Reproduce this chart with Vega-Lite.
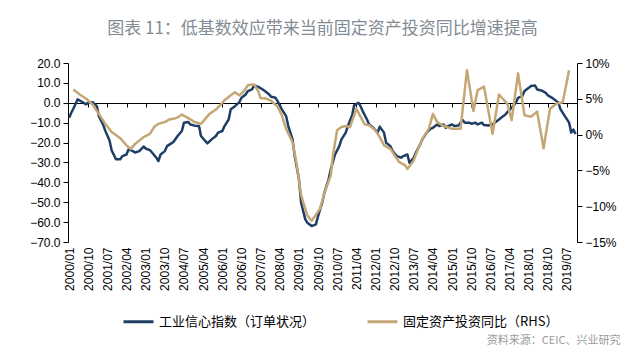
{
  "$schema": "https://vega.github.io/schema/vega-lite/v6.json",
  "width": 509,
  "height": 179,
  "autosize": {"type": "none"},
  "padding": {"left": 68, "top": 63, "right": 63, "bottom": 116},
  "background": "white",
  "title": {
    "text": "图表 11：低基数效应带来当前固定资产投资同比增速提高",
    "anchor": "middle",
    "frame": "group",
    "font": "Noto Sans CJK SC",
    "fontSize": 17,
    "fontWeight": "normal",
    "color": "#838b94",
    "offset": 19
  },
  "config": {
    "view": {"stroke": null},
    "axis": {
      "labelFont": "Liberation Sans",
      "labelFontSize": 12,
      "labelColor": "#000000",
      "domainColor": "#000000",
      "tickColor": "#000000",
      "grid": false
    }
  },
  "datasets": {
    "blue": [
      {"d": "2000-01-01", "v": -7.5}, {"d": "2000-02-01", "v": -5}, {"d": "2000-03-01", "v": -3},
      {"d": "2000-05-01", "v": 1.7}, {"d": "2000-07-01", "v": 0.5}, {"d": "2000-09-01", "v": -0.8},
      {"d": "2000-10-01", "v": 0}, {"d": "2000-12-01", "v": 0.3}, {"d": "2001-02-01", "v": -1.7},
      {"d": "2001-03-01", "v": -6.7}, {"d": "2001-05-01", "v": -11}, {"d": "2001-06-01", "v": -14},
      {"d": "2001-08-01", "v": -19}, {"d": "2001-09-01", "v": -24}, {"d": "2001-11-01", "v": -28.4},
      {"d": "2002-01-01", "v": -28.4}, {"d": "2002-02-01", "v": -26.8}, {"d": "2002-04-01", "v": -26},
      {"d": "2002-05-01", "v": -23.4}, {"d": "2002-07-01", "v": -24.3}, {"d": "2002-08-01", "v": -25},
      {"d": "2002-10-01", "v": -24.3}, {"d": "2002-12-01", "v": -22}, {"d": "2003-01-01", "v": -23},
      {"d": "2003-03-01", "v": -23.8}, {"d": "2003-04-01", "v": -25}, {"d": "2003-06-01", "v": -27.6},
      {"d": "2003-07-01", "v": -29.3}, {"d": "2003-08-01", "v": -26}, {"d": "2003-10-01", "v": -24.3},
      {"d": "2003-11-01", "v": -21.8}, {"d": "2004-01-01", "v": -20.4}, {"d": "2004-02-01", "v": -19.7},
      {"d": "2004-04-01", "v": -16.7}, {"d": "2004-06-01", "v": -14.2}, {"d": "2004-07-01", "v": -10},
      {"d": "2004-09-01", "v": -9.7}, {"d": "2004-10-01", "v": -10.9}, {"d": "2004-12-01", "v": -11.5},
      {"d": "2005-02-01", "v": -11.7}, {"d": "2005-03-01", "v": -16.7}, {"d": "2005-05-01", "v": -19.2},
      {"d": "2005-06-01", "v": -20.4}, {"d": "2005-08-01", "v": -18.4}, {"d": "2005-10-01", "v": -16.7},
      {"d": "2005-11-01", "v": -15}, {"d": "2006-01-01", "v": -14.2}, {"d": "2006-02-01", "v": -11.7},
      {"d": "2006-04-01", "v": -8.4}, {"d": "2006-05-01", "v": -3.3}, {"d": "2006-07-01", "v": -1.7},
      {"d": "2006-09-01", "v": 0.3}, {"d": "2006-10-01", "v": 2.5}, {"d": "2006-12-01", "v": 4.2},
      {"d": "2007-01-01", "v": 5.9}, {"d": "2007-03-01", "v": 6.7}, {"d": "2007-04-01", "v": 8.7},
      {"d": "2007-06-01", "v": 8.0}, {"d": "2007-08-01", "v": 6.7}, {"d": "2007-09-01", "v": 5.9},
      {"d": "2007-11-01", "v": 4.2}, {"d": "2007-12-01", "v": 3.0}, {"d": "2008-02-01", "v": 2.5},
      {"d": "2008-03-01", "v": 0.8}, {"d": "2008-05-01", "v": -3.3}, {"d": "2008-07-01", "v": -6.7},
      {"d": "2008-08-01", "v": -11.7}, {"d": "2008-10-01", "v": -18.4}, {"d": "2008-11-01", "v": -26.8},
      {"d": "2009-01-01", "v": -38.5}, {"d": "2009-02-01", "v": -50.3}, {"d": "2009-04-01", "v": -58.6},
      {"d": "2009-05-01", "v": -60.3}, {"d": "2009-07-01", "v": -62}, {"d": "2009-09-01", "v": -61.1},
      {"d": "2009-10-01", "v": -57}, {"d": "2009-12-01", "v": -50}, {"d": "2010-01-01", "v": -45},
      {"d": "2010-03-01", "v": -38.5}, {"d": "2010-04-01", "v": -33.5}, {"d": "2010-06-01", "v": -26},
      {"d": "2010-08-01", "v": -21.8}, {"d": "2010-09-01", "v": -18.4}, {"d": "2010-11-01", "v": -15},
      {"d": "2010-12-01", "v": -11.7}, {"d": "2011-02-01", "v": -6.3}, {"d": "2011-03-01", "v": -1.3},
      {"d": "2011-05-01", "v": 0}, {"d": "2011-06-01", "v": -1.7}, {"d": "2011-07-01", "v": -4.2},
      {"d": "2011-09-01", "v": -8.4}, {"d": "2011-10-01", "v": -10.9}, {"d": "2011-12-01", "v": -12.6},
      {"d": "2012-02-01", "v": -15}, {"d": "2012-03-01", "v": -12}, {"d": "2012-05-01", "v": -15},
      {"d": "2012-06-01", "v": -20.1}, {"d": "2012-08-01", "v": -21.8}, {"d": "2012-09-01", "v": -24.3},
      {"d": "2012-11-01", "v": -26.8}, {"d": "2013-01-01", "v": -27.6}, {"d": "2013-02-01", "v": -26.8},
      {"d": "2013-04-01", "v": -26}, {"d": "2013-05-01", "v": -30.2}, {"d": "2013-07-01", "v": -27.6},
      {"d": "2013-08-01", "v": -25}, {"d": "2013-10-01", "v": -20.9}, {"d": "2013-11-01", "v": -18.4},
      {"d": "2014-01-01", "v": -15}, {"d": "2014-03-01", "v": -13}, {"d": "2014-04-01", "v": -12.6},
      {"d": "2014-06-01", "v": -10.9}, {"d": "2014-07-01", "v": -11.7}, {"d": "2014-09-01", "v": -10.9},
      {"d": "2014-10-01", "v": -12.6}, {"d": "2014-11-01", "v": -11.7}, {"d": "2015-01-01", "v": -10.9},
      {"d": "2015-02-01", "v": -11.7}, {"d": "2015-04-01", "v": -11.4}, {"d": "2015-06-01", "v": -8.7},
      {"d": "2015-07-01", "v": -10}, {"d": "2015-09-01", "v": -10}, {"d": "2015-10-01", "v": -10.5},
      {"d": "2015-12-01", "v": -10}, {"d": "2016-01-01", "v": -10.9}, {"d": "2016-03-01", "v": -10},
      {"d": "2016-04-01", "v": -11.2}, {"d": "2016-06-01", "v": -11.4}, {"d": "2016-08-01", "v": -10.9},
      {"d": "2016-09-01", "v": -10}, {"d": "2016-11-01", "v": -8.4}, {"d": "2016-12-01", "v": -7.5},
      {"d": "2017-02-01", "v": -5.9}, {"d": "2017-03-01", "v": -4.7}, {"d": "2017-05-01", "v": -2.5},
      {"d": "2017-07-01", "v": 0}, {"d": "2017-08-01", "v": 2.5}, {"d": "2017-10-01", "v": 3.4},
      {"d": "2017-11-01", "v": 5.9}, {"d": "2018-01-01", "v": 7.5}, {"d": "2018-02-01", "v": 8.4},
      {"d": "2018-04-01", "v": 8.7}, {"d": "2018-05-01", "v": 6.7}, {"d": "2018-07-01", "v": 6.2},
      {"d": "2018-09-01", "v": 5.0}, {"d": "2018-10-01", "v": 3.7}, {"d": "2018-12-01", "v": 2.5},
      {"d": "2019-01-01", "v": 1.7}, {"d": "2019-03-01", "v": 0}, {"d": "2019-04-01", "v": -3.3},
      {"d": "2019-06-01", "v": -6.7}, {"d": "2019-08-01", "v": -10}, {"d": "2019-09-01", "v": -15},
      {"d": "2019-10-01", "v": -13.5}, {"d": "2019-11-01", "v": -15.7}
    ],
    "gold": [
      {"d": "2000-03-01", "v": 6.3}, {"d": "2000-06-01", "v": 5.6}, {"d": "2000-09-01", "v": 5.0},
      {"d": "2000-12-01", "v": 4.2}, {"d": "2001-03-01", "v": 2.9}, {"d": "2001-06-01", "v": 1.5},
      {"d": "2001-09-01", "v": 0.35}, {"d": "2002-01-01", "v": -0.5}, {"d": "2002-04-01", "v": -1.5},
      {"d": "2002-06-01", "v": -2.0}, {"d": "2002-08-01", "v": -1.3}, {"d": "2002-12-01", "v": -0.35},
      {"d": "2003-03-01", "v": 0.1}, {"d": "2003-05-01", "v": 1.05}, {"d": "2003-07-01", "v": 1.5},
      {"d": "2003-10-01", "v": 1.75}, {"d": "2003-12-01", "v": 2.1}, {"d": "2004-02-01", "v": 2.2},
      {"d": "2004-04-01", "v": 2.4}, {"d": "2004-06-01", "v": 2.8}, {"d": "2004-09-01", "v": 2.3},
      {"d": "2004-12-01", "v": 1.75}, {"d": "2005-03-01", "v": 1.5}, {"d": "2005-05-01", "v": 2.2},
      {"d": "2005-07-01", "v": 2.9}, {"d": "2005-10-01", "v": 3.5}, {"d": "2005-12-01", "v": 4.1},
      {"d": "2006-02-01", "v": 4.8}, {"d": "2006-05-01", "v": 5.5}, {"d": "2006-07-01", "v": 5.9},
      {"d": "2006-09-01", "v": 5.5}, {"d": "2006-11-01", "v": 6.0}, {"d": "2007-01-01", "v": 6.9},
      {"d": "2007-03-01", "v": 7.0}, {"d": "2007-04-01", "v": 7.0}, {"d": "2007-06-01", "v": 6.0},
      {"d": "2007-07-01", "v": 5.1}, {"d": "2007-10-01", "v": 5.0}, {"d": "2007-12-01", "v": 4.7},
      {"d": "2008-03-01", "v": 3.9}, {"d": "2008-05-01", "v": 2.7}, {"d": "2008-07-01", "v": 0.8},
      {"d": "2008-10-01", "v": -1.05}, {"d": "2008-12-01", "v": -4.3}, {"d": "2009-02-01", "v": -8.5},
      {"d": "2009-05-01", "v": -11.3}, {"d": "2009-07-01", "v": -12.05}, {"d": "2009-09-01", "v": -11.2},
      {"d": "2009-11-01", "v": -10.3}, {"d": "2010-01-01", "v": -8.1}, {"d": "2010-04-01", "v": -5.7},
      {"d": "2010-05-01", "v": -2.9}, {"d": "2010-07-01", "v": 0.6}, {"d": "2010-09-01", "v": 1.05},
      {"d": "2010-11-01", "v": 1.2}, {"d": "2011-01-01", "v": 1.05}, {"d": "2011-04-01", "v": 3.6},
      {"d": "2011-06-01", "v": 2.5}, {"d": "2011-08-01", "v": 1.4}, {"d": "2011-10-01", "v": 1.3},
      {"d": "2012-01-01", "v": 0.6}, {"d": "2012-03-01", "v": -0.35}, {"d": "2012-05-01", "v": -1.5},
      {"d": "2012-08-01", "v": -2.0}, {"d": "2012-10-01", "v": -2.9}, {"d": "2012-12-01", "v": -3.8},
      {"d": "2013-03-01", "v": -4.3}, {"d": "2013-04-01", "v": -4.8}, {"d": "2013-07-01", "v": -3.6},
      {"d": "2013-09-01", "v": -2.0}, {"d": "2013-11-01", "v": -0.6}, {"d": "2014-02-01", "v": 0.8},
      {"d": "2014-04-01", "v": 2.9}, {"d": "2014-06-01", "v": 1.75}, {"d": "2014-09-01", "v": 1.2},
      {"d": "2015-01-01", "v": 0.8}, {"d": "2015-05-01", "v": 0.8}, {"d": "2015-08-01", "v": 9.0},
      {"d": "2015-11-01", "v": 3.3}, {"d": "2016-01-01", "v": 6.2}, {"d": "2016-04-01", "v": 6.7},
      {"d": "2016-08-01", "v": 0.1}, {"d": "2016-11-01", "v": 5.6}, {"d": "2017-03-01", "v": 4.3},
      {"d": "2017-05-01", "v": 2.0}, {"d": "2017-08-01", "v": 8.55}, {"d": "2017-11-01", "v": 2.7},
      {"d": "2018-02-01", "v": 2.5}, {"d": "2018-05-01", "v": 3.2}, {"d": "2018-08-01", "v": -1.9},
      {"d": "2018-11-01", "v": 3.6}, {"d": "2019-02-01", "v": 4.3}, {"d": "2019-05-01", "v": 4.5},
      {"d": "2019-08-01", "v": 9.0}
    ]
  },
  "layer": [
    {
      "data": {"name": "blue"},
      "mark": {"type": "line", "strokeWidth": 2.5, "strokeJoin": "round"},
      "encoding": {
        "x": {
          "field": "d", "type": "temporal",
          "scale": {"type": "utc", "domain": [{"year": 1999, "month": 12, "date": 16, "utc": true}, {"year": 2019, "month": 11, "date": 22, "utc": true}]},
          "axis": {
            "orient": "bottom",
            "values": [
              {"year": 2000, "month": 1, "date": 1, "utc": true}, {"year": 2000, "month": 10, "date": 1, "utc": true},
              {"year": 2001, "month": 7, "date": 1, "utc": true}, {"year": 2002, "month": 4, "date": 1, "utc": true},
              {"year": 2003, "month": 1, "date": 1, "utc": true}, {"year": 2003, "month": 10, "date": 1, "utc": true},
              {"year": 2004, "month": 7, "date": 1, "utc": true}, {"year": 2005, "month": 4, "date": 1, "utc": true},
              {"year": 2006, "month": 1, "date": 1, "utc": true}, {"year": 2006, "month": 10, "date": 1, "utc": true},
              {"year": 2007, "month": 7, "date": 1, "utc": true}, {"year": 2008, "month": 4, "date": 1, "utc": true},
              {"year": 2009, "month": 1, "date": 1, "utc": true}, {"year": 2009, "month": 10, "date": 1, "utc": true},
              {"year": 2010, "month": 7, "date": 1, "utc": true}, {"year": 2011, "month": 4, "date": 1, "utc": true},
              {"year": 2012, "month": 1, "date": 1, "utc": true}, {"year": 2012, "month": 10, "date": 1, "utc": true},
              {"year": 2013, "month": 7, "date": 1, "utc": true}, {"year": 2014, "month": 4, "date": 1, "utc": true},
              {"year": 2015, "month": 1, "date": 1, "utc": true}, {"year": 2015, "month": 10, "date": 1, "utc": true},
              {"year": 2016, "month": 7, "date": 1, "utc": true}, {"year": 2017, "month": 4, "date": 1, "utc": true},
              {"year": 2018, "month": 1, "date": 1, "utc": true}, {"year": 2018, "month": 10, "date": 1, "utc": true},
              {"year": 2019, "month": 7, "date": 1, "utc": true}
            ],
            "format": "%Y/%m",
            "labelAngle": -90,
            "labelAlign": "right",
            "labelBaseline": "middle",
            "labelPadding": 5,
            "labelOverlap": false,
            "labelFlush": false,
            "domain": false,
            "ticks": false,
            "title": "资料来源：CEIC、兴业研究",
            "titleFont": "Noto Sans CJK SC",
            "titleFontSize": 11,
            "titleFontWeight": "normal",
            "titleColor": "#9a9a9a",
            "titleAnchor": "end",
            "titleAlign": "right",
            "titleBaseline": "middle",
            "titleX": 552,
            "titleY": 98
          }
        },
        "y": {
          "field": "v", "type": "quantitative",
          "scale": {"domain": [-70, 20], "nice": false, "zero": false},
          "axis": {
            "orient": "left",
            "values": [-70, -60, -50, -40, -30, -20, -10, 0, 10, 20],
            "format": ".1f",
            "tickSize": 5,
            "labelPadding": 3,
            "title": null
          }
        },
        "color": {
          "datum": "工业信心指数（订单状况）",
          "type": "nominal",
          "scale": {"domain": ["工业信心指数（订单状况）", "固定资产投资同比（RHS）"], "range": ["#1f3e66", "#c4a775"]},
          "legend": {
            "orient": "none",
            "legendX": 54,
            "legendY": 242,
            "direction": "horizontal",
            "title": null,
            "symbolType": "stroke",
            "symbolSize": 900,
            "symbolStrokeWidth": 3,
            "labelFont": "Noto Sans CJK SC",
            "labelFontSize": 13,
            "labelColor": "#000000",
            "labelLimit": 300,
            "columnPadding": 45
          }
        }
      }
    },
    {
      "data": {"name": "gold"},
      "mark": {"type": "line", "strokeWidth": 2.5, "strokeJoin": "round"},
      "encoding": {
        "x": {
          "field": "d", "type": "temporal",
          "scale": {"type": "utc", "domain": [{"year": 1999, "month": 12, "date": 16, "utc": true}, {"year": 2019, "month": 11, "date": 22, "utc": true}]},
          "axis": {
            "orient": "bottom",
            "offset": -139,
            "values": [
              {"year": 2000, "month": 10, "date": 1, "utc": true},
              {"year": 2001, "month": 7, "date": 1, "utc": true}, {"year": 2002, "month": 4, "date": 1, "utc": true},
              {"year": 2003, "month": 1, "date": 1, "utc": true}, {"year": 2003, "month": 10, "date": 1, "utc": true},
              {"year": 2004, "month": 7, "date": 1, "utc": true}, {"year": 2005, "month": 4, "date": 1, "utc": true},
              {"year": 2006, "month": 1, "date": 1, "utc": true}, {"year": 2006, "month": 10, "date": 1, "utc": true},
              {"year": 2007, "month": 7, "date": 1, "utc": true}, {"year": 2008, "month": 4, "date": 1, "utc": true},
              {"year": 2009, "month": 1, "date": 1, "utc": true}, {"year": 2009, "month": 10, "date": 1, "utc": true},
              {"year": 2010, "month": 7, "date": 1, "utc": true}, {"year": 2011, "month": 4, "date": 1, "utc": true},
              {"year": 2012, "month": 1, "date": 1, "utc": true}, {"year": 2012, "month": 10, "date": 1, "utc": true},
              {"year": 2013, "month": 7, "date": 1, "utc": true}, {"year": 2014, "month": 4, "date": 1, "utc": true},
              {"year": 2015, "month": 1, "date": 1, "utc": true}, {"year": 2015, "month": 10, "date": 1, "utc": true},
              {"year": 2016, "month": 7, "date": 1, "utc": true}, {"year": 2017, "month": 4, "date": 1, "utc": true},
              {"year": 2018, "month": 1, "date": 1, "utc": true}, {"year": 2018, "month": 10, "date": 1, "utc": true},
              {"year": 2019, "month": 7, "date": 1, "utc": true}
            ],
            "labels": false,
            "domain": true,
            "domainWidth": 1.2,
            "ticks": true,
            "tickSize": 4,
            "title": null
          }
        },
        "y": {
          "field": "v", "type": "quantitative",
          "scale": {"domain": [-15, 10], "nice": false, "zero": false},
          "axis": {
            "orient": "right",
            "values": [-15, -10, -5, 0, 5, 10],
            "labelExpr": "format(datum.value / 100, '.0%')",
            "tickSize": 5,
            "labelPadding": 3,
            "title": null
          }
        },
        "color": {"datum": "固定资产投资同比（RHS）", "type": "nominal"}
      }
    }
  ],
  "resolve": {
    "scale": {"x": "independent", "y": "independent"},
    "axis": {"x": "independent", "y": "independent"}
  }
}
